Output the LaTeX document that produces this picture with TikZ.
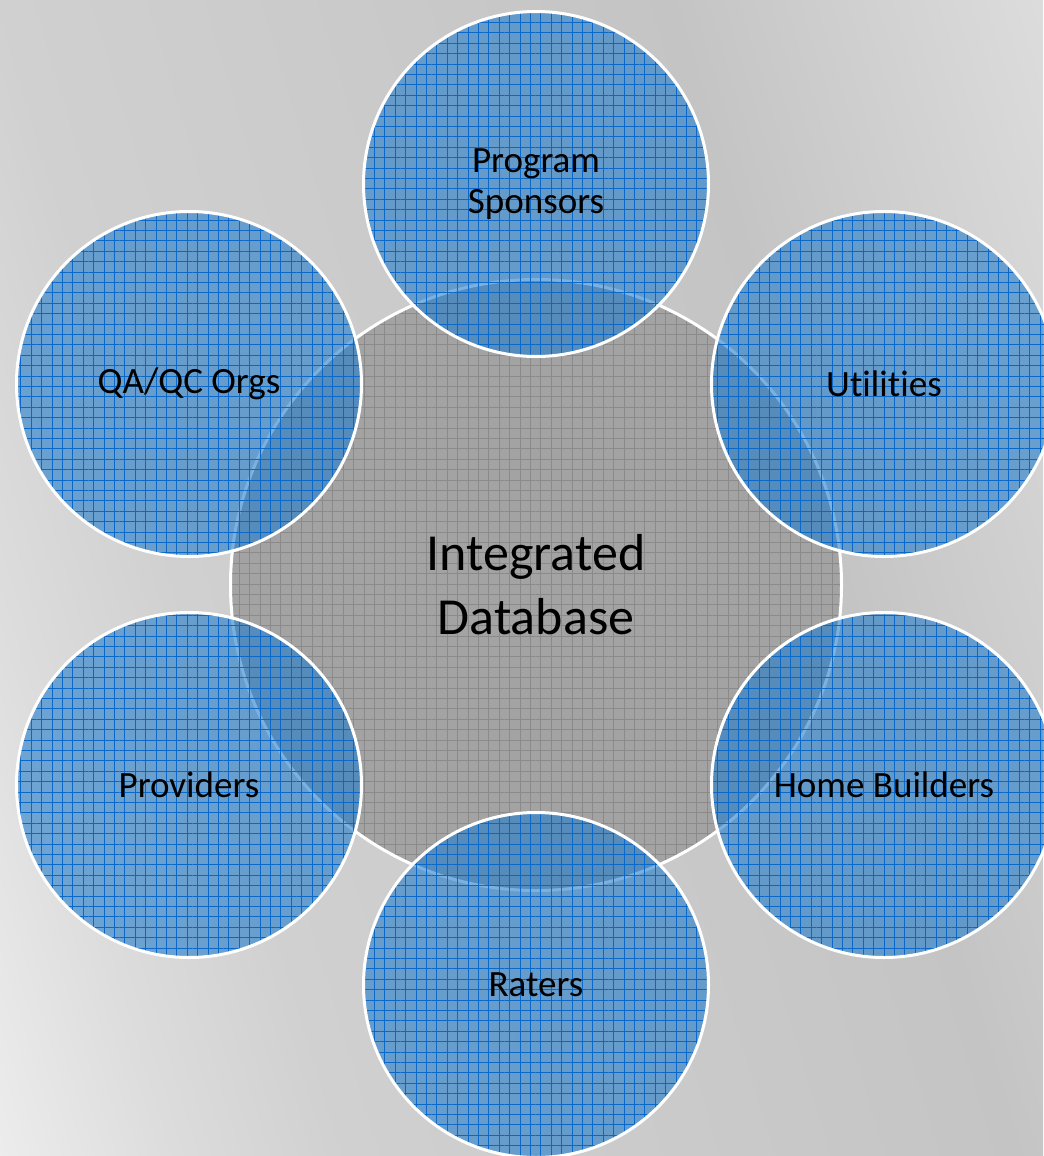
\documentclass[tikz,border=0pt]{standalone}
\usepackage{fontspec}
\setmainfont{Carlito}[Ligatures={NoCommon}]
\usetikzlibrary{patterns.meta}
\definecolor{bluefill}{RGB}{35,125,205}
\definecolor{blueline}{RGB}{10,105,200}
\definecolor{grayfill}{RGB}{163,163,163}
\definecolor{grayline}{RGB}{138,138,138}
\pgfdeclarehorizontalshading{bgshade}{100bp}{%
 color(0bp)=(white!95!black);
 color(25bp)=(white!95!black);
 color(31.6bp)=(white!92.5!black);
 color(36.2bp)=(white!86.3!black);
 color(40.75bp)=(white!81.6!black);
 color(50bp)=(white!79.2!black);
 color(58.6bp)=(white!76.9!black);
 color(68.4bp)=(white!86.3!black);
 color(75bp)=(white!88.6!black);
 color(100bp)=(white!88.6!black)}
\tikzset{
 hub/.style={circle, draw=white, line width=2.25pt,
   preaction={fill=grayfill},
   pattern={Hatch[angle=0,distance=7.8pt,line width=0.6pt]}, pattern color=grayline,
   minimum size=458.25pt, inner sep=0pt, align=center,
   font=\fontsize{39pt}{48pt}\selectfont},
 sat/.style={circle, draw=white, line width=2.25pt, fill opacity=0.6, draw opacity=1, text opacity=1,
   preaction={fill=bluefill},
   pattern={Hatch[angle=0,distance=7.8pt,line width=0.6pt]}, pattern color=blueline,
   minimum size=258.75pt, inner sep=0pt, align=center,
   font=\fontsize{27.8pt}{30.5pt}\selectfont}
}
\begin{document}
\begin{tikzpicture}[x=0.75pt,y=-0.75pt]
\useasboundingbox (0,0) rectangle (1043,1156);
\begin{scope}
 \clip (0,0) rectangle (1043,1156);
 \begin{scope}[transform canvas={rotate around={16.7:(521,578)}}]
  \shade[shading=bgshade] (-379,-322) rectangle (1421,1478);
 \end{scope}
\end{scope}
\node[hub] (db) at (536,585) {Integrated\\Database};
\node[sat] (ps) at (536,184) {Program\\Sponsors};
\node[sat] (ut) at (884,384) {Utilities};
\node[sat] (hb) at (884,785) {Home Builders};
\node[sat] (ra) at (536,985) {Raters};
\node[sat] (pr) at (189,785) {Providers};
\node[sat] (qa) at (189,384) {QA/QC Orgs};
\end{tikzpicture}
\end{document}
